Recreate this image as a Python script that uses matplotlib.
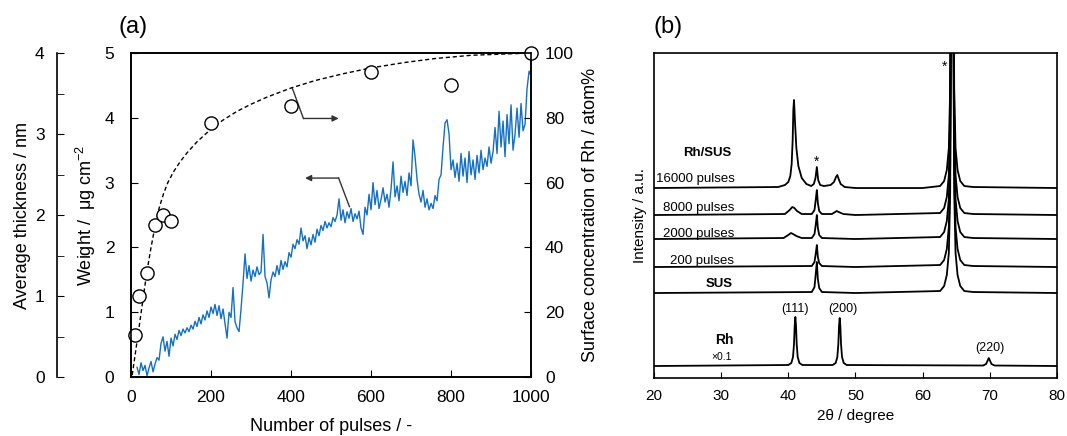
import numpy as np
import matplotlib as mpl
mpl.use('Agg')
import matplotlib.pyplot as plt

plt.rcParams['font.family'] = ['Liberation Sans', 'DejaVu Sans']
plt.rcParams['mathtext.fontset'] = 'custom'
plt.rcParams['mathtext.rm'] = 'Liberation Sans'
plt.rcParams['mathtext.default'] = 'regular'

# ---- (a) weight vs pulses ----
pulses = np.arange(15, 1001, 5)
weight = [
    0.15, 0.04, 0.22, 0.10, 0.18, 0.02, 0.14, 0.24, 0.08, 0.20,
    0.30, 0.26, 0.52, 0.62, 0.40, 0.55, 0.32, 0.60, 0.48, 0.66,
    0.58, 0.72, 0.64, 0.74, 0.68, 0.76, 0.70, 0.80, 0.74, 0.86,
    0.78, 0.92, 0.82, 0.96, 0.88, 1.02, 0.92, 1.08, 0.98, 1.12,
    0.95, 1.10, 0.90, 1.05, 0.82, 0.60, 1.00, 0.92, 1.38, 0.85,
    0.76, 0.70, 1.05, 1.45, 1.90, 1.52, 1.72, 1.48, 1.65, 1.55,
    1.70, 1.58, 1.62, 2.20, 1.55, 1.45, 1.22, 1.50, 1.62, 1.55,
    1.72, 1.58, 1.80, 1.66, 1.78, 1.70, 1.92, 1.85, 2.05, 1.98,
    2.12, 2.05, 2.30, 2.10, 2.18, 1.98, 2.15, 2.04, 2.20, 2.08,
    2.28, 2.18, 2.34, 2.26, 2.40, 2.30, 2.38, 2.32, 2.46, 2.40,
    2.50, 2.75, 2.42, 2.58, 2.38, 2.55, 2.45, 2.60, 2.40, 2.52,
    2.44, 2.56, 2.30, 2.20, 2.62, 2.50, 2.82, 2.58, 3.00, 2.66,
    2.88, 2.60, 2.74, 2.92, 2.70, 2.82, 2.62, 2.90, 3.32, 2.78,
    2.95, 2.72, 3.10, 2.85, 3.02, 2.80, 3.15, 2.95, 3.66, 3.40,
    3.05, 2.82, 2.70, 2.88, 2.62, 2.75, 2.58, 2.68, 2.60, 2.80,
    2.72, 3.05, 3.12, 3.55, 3.92, 3.97, 3.75, 3.20, 3.35, 3.08,
    3.30, 3.02, 3.45, 3.10, 3.38, 3.00, 3.48, 3.12, 3.35, 3.05,
    3.42, 3.15, 3.50, 3.20, 3.38, 3.25, 3.55, 3.30, 3.48, 3.85,
    3.45, 4.10, 3.55, 3.95, 3.40, 4.05, 3.60, 4.20, 3.50, 3.75,
    4.15, 3.70, 4.22, 3.80, 3.90, 4.45, 4.72, 4.65,
]

conc_pulses = [10, 20, 40, 60, 80, 100, 200, 400, 600, 800, 1000]
conc = [13, 25, 32, 47, 50, 48, 78.5, 83.6, 94.2, 90, 100]

fit_pulses = [3, 18, 39, 50, 60, 70, 81, 92, 106, 122, 140, 165, 198, 230, 265,
              300, 340, 400, 460, 530, 600, 680, 760, 850, 1000]
fit_conc = [0.6, 13.5, 32, 40, 46.5, 52, 56.5, 60, 63.3, 66.3, 69.2, 72.6, 76.3,
            79.3, 82, 84.2, 86.4, 89.2, 91.5, 93.6, 95.4, 97, 98.3, 99.3, 100]

arrow_right = [(403, 4.46), (431, 3.99), (519, 3.99)]
arrow_left = [(546, 2.63), (519, 3.07), (435, 3.07)]

# ---- (b) XRD ----
tth_16000 = [20, 38.5, 39.5, 40.0, 40.3, 40.5, 40.65, 40.75, 40.85, 41.0, 41.2, 41.5,
             42.0, 42.7, 43.4, 43.8, 44.05, 44.25, 44.45, 44.75, 45.3, 46.3, 46.8,
             47.1, 47.3, 47.5, 47.8, 48.4, 50, 60, 62.6, 63.2, 63.6, 63.9, 64.1,
             64.25, 64.4, 64.55, 64.7, 64.9, 65.2, 65.6, 66.2, 67.5, 80]
int_16000 = [0, 1, 3, 6, 12, 24, 48, 78, 88, 66, 40, 22,
             10, 4, 2, 4, 10, 21, 8, 3, 2, 3, 6,
             11, 13, 9, 4, 1, 0, 0, 2, 7, 18, 40, 100,
             300, 900, 300, 100, 40, 18, 7, 2, 1, 0]

tth_8000 = [20, 39.5, 40.2, 40.6, 40.9, 41.3, 42.0, 43.5, 43.9, 44.1, 44.25, 44.4,
            44.6, 45.0, 46.5, 47.2, 47.5, 48.2, 50, 62.6, 63.2, 63.6, 63.9, 64.1,
            64.25, 64.4, 64.55, 64.7, 64.9, 65.2, 65.6, 66.2, 67.5, 80]
int_8000 = [0, 1, 5, 8, 7, 4, 1, 1, 5, 16, 25, 12,
            4, 1, 1, 4, 3, 1, 0, 2, 7, 18, 40, 100,
            300, 900, 300, 100, 40, 18, 7, 2, 1, 0]

tth_2000 = [20, 39.3, 40.0, 40.4, 40.7, 41.2, 42.0, 43.5, 43.9, 44.1, 44.25, 44.4,
            44.6, 45.0, 50, 62.6, 63.2, 63.6, 63.9, 64.1,
            64.25, 64.4, 64.55, 64.7, 64.9, 65.2, 65.6, 66.2, 67.5, 80]
int_2000 = [0, 1, 4, 6, 5, 3, 1, 1, 5, 15, 24, 11,
            4, 1, 0, 2, 7, 18, 40, 100,
            300, 900, 300, 100, 40, 18, 7, 2, 1, 0]

tth_200 = [20, 43.5, 43.9, 44.1, 44.25, 44.4, 44.6, 45.0, 50, 62.6, 63.2, 63.6,
           63.9, 64.1, 64.25, 64.4, 64.55, 64.7, 64.9, 65.2, 65.6, 66.2, 67.5, 80]
int_200 = [0, 1, 5, 14, 22, 10, 4, 1, 0, 2, 7, 18,
           40, 100, 300, 900, 300, 100, 40, 18, 7, 2, 1, 0]

tth_sus = [20, 43.5, 43.9, 44.1, 44.25, 44.4, 44.6, 45.0, 50, 62.6, 63.2, 63.6,
           63.9, 64.1, 64.25, 64.4, 64.55, 64.7, 64.9, 65.2, 65.6, 66.2, 67.5, 80]
int_sus = [0, 1, 6, 20, 31, 14, 5, 1, 0, 2, 7, 18,
           40, 100, 300, 900, 300, 100, 40, 18, 7, 2, 1, 0]

tth_rh = [20, 40.0, 40.45, 40.7, 40.85, 40.95, 41.05, 41.15, 41.25, 41.4, 41.65, 42.1,
          46.6, 47.05, 47.3, 47.45, 47.55, 47.65, 47.75, 47.85, 48.0, 48.25, 48.7,
          69.0, 69.45, 69.65, 69.85, 70.05, 70.25, 70.7, 80]
int_rh = [0, 1, 3, 9, 22, 40, 49, 40, 22, 9, 3, 1,
          1, 3, 9, 22, 40, 48, 40, 22, 9, 3, 1,
          0.5, 2, 5, 8, 5, 2, 0.5, 0]

traces = [(tth_16000, int_16000), (tth_8000, int_8000), (tth_2000, int_2000),
          (tth_200, int_200), (tth_sus, int_sus), (tth_rh, int_rh)]
offsets = [190, 163, 139, 111, 85, 12]
trace_labels = ['16000 pulses', '8000 pulses', '2000 pulses', '200 pulses']
label_x = [20.3, 21.3, 21.3, 22.4]
label_y = [199, 170, 144, 117]

fig = plt.figure(figsize=(10.67, 4.36), dpi=100)

# panel (a)
ax = fig.add_axes([0.1228, 0.1353, 0.3749, 0.7431])
ax.plot(pulses, weight, color='#1570c4', lw=1.0)
ax.set_xlim(0, 1000)
ax.set_ylim(0, 5)
ax.set_xticks([0, 200, 400, 600, 800, 1000])
ax.set_yticks([0, 1, 2, 3, 4, 5])
ax.tick_params(direction='in', length=5, labelsize=12.5, pad=9)
ax.tick_params(axis='y', pad=12)
ax.set_xlabel('Number of pulses / -', fontsize=13)
ax.xaxis.set_label_coords(0.5, -0.127)
ax.set_ylabel('Weight /  μg cm$^{-2}$', fontsize=13)
ax.yaxis.set_label_coords(-0.083, 0.5)

for pts in (arrow_right, arrow_left):
    xs = [p[0] for p in pts]
    ys = [p[1] for p in pts]
    ax.plot(xs[:2], ys[:2], color='#333333', lw=1)
    ax.annotate('', xy=pts[2], xytext=pts[1],
                arrowprops=dict(arrowstyle='-|>', color='#333333', lw=1,
                                mutation_scale=9, shrinkA=0, shrinkB=0))

axr = ax.twinx()
axr.plot(fit_pulses, fit_conc, color='black', lw=1, ls=(0, (3, 2)))
axr.plot(conc_pulses, conc, 'o', mfc='white', mec='black', ms=9.5, mew=1, clip_on=False)
axr.set_ylim(0, 100)
axr.set_yticks([0, 20, 40, 60, 80, 100])
axr.tick_params(direction='in', length=5, labelsize=12.5, pad=10)
axr.set_ylabel('Surface concentration of Rh / atom%', fontsize=13)
axr.yaxis.set_label_coords(1.128, 0.5)

axt = ax.twinx()
axt.spines['left'].set_position(('axes', -0.185))
axt.spines['left'].set_visible(True)
for s in ('right', 'top', 'bottom'):
    axt.spines[s].set_visible(False)
axt.yaxis.set_ticks_position('left')
axt.yaxis.set_label_position('left')
axt.set_ylim(0, 4)
axt.set_yticks([0, 1, 2, 3, 4])
axt.set_yticks([0.5, 1.5, 2.5, 3.5], minor=True)
axt.tick_params(axis='y', which='both', direction='in', length=5, labelsize=12.5, pad=9)
axt.set_ylabel('Average thickness / nm', fontsize=13)
axt.yaxis.set_label_coords(-0.25, 0.5)

for a in (ax, axr, axt):
    for s in a.spines.values():
        s.set_linewidth(1.2)

fig.text(133 / 1067, 1 - 27 / 436, '(a)', fontsize=17, ha='center', va='center')

# panel (b)
bx = fig.add_axes([0.6129, 0.1330, 0.3777, 0.7454])
for (tth, inten), off in zip(traces, offsets):
    bx.plot(tth, np.array(inten) + off, color='black', lw=1.3)
bx.set_xlim(20, 80)
bx.set_ylim(0, 325)
bx.set_xticks([20, 30, 40, 50, 60, 70, 80])
bx.set_yticks([])
bx.tick_params(axis='x', direction='in', length=4, labelsize=11, pad=8)
bx.set_xlabel('2θ / degree', fontsize=11)
bx.set_ylabel('Intensity / a.u.', fontsize=11, labelpad=5)
for s in bx.spines.values():
    s.set_linewidth(1.2)

for t, lx, ly in zip(trace_labels, label_x, label_y):
    bx.text(lx, ly, t, fontsize=9.5, ha='left', va='center')
bx.text(28.0, 225, 'Rh/SUS', fontsize=9.5, fontweight='bold', ha='center', va='center')
bx.text(29.75, 94, 'SUS', fontsize=9.5, fontweight='bold', ha='center', va='center')
bx.text(30.5, 38, 'Rh', fontsize=10, fontweight='bold', ha='center', va='center')
bx.text(30.1, 21, '×0.1', fontsize=7.5, ha='center', va='center')
bx.text(41.0, 69, '(111)', fontsize=9, ha='center', va='center')
bx.text(48.1, 69, '(200)', fontsize=9, ha='center', va='center')
bx.text(70.0, 30, '(220)', fontsize=9, ha='center', va='center')
bx.text(44.27, 216, '*', fontsize=10, ha='center', va='center')
bx.text(63.3, 311, '*', fontsize=10, ha='center', va='center')

fig.text(668 / 1067, 1 - 27 / 436, '(b)', fontsize=17, ha='center', va='center')

plt.savefig('out.png', dpi=100)
